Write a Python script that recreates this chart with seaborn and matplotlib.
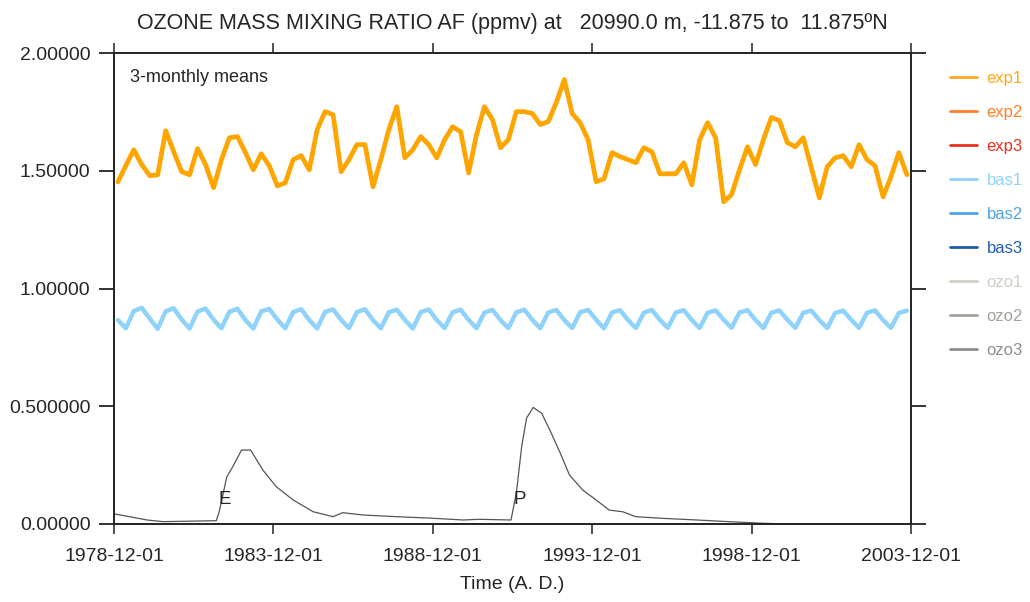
import numpy as np
import pandas as pd
import matplotlib
matplotlib.use("Agg")
import matplotlib.pyplot as plt
from matplotlib.lines import Line2D
import seaborn as sns

# ---------------- data ----------------
exp1_values = [
    1.453, 1.521, 1.589, 1.526, 1.479, 1.483, 1.670, 1.581, 1.496, 1.483,
    1.594, 1.526, 1.428, 1.547, 1.640, 1.645, 1.577, 1.504, 1.572, 1.521,
    1.436, 1.449, 1.547, 1.564, 1.504, 1.674, 1.751, 1.738, 1.496, 1.547,
    1.611, 1.611, 1.432, 1.547, 1.674, 1.772, 1.555, 1.589, 1.645, 1.611,
    1.555, 1.632, 1.687, 1.666, 1.491, 1.653, 1.772, 1.717, 1.598, 1.632,
    1.751, 1.751, 1.743, 1.696, 1.709, 1.789, 1.887, 1.743, 1.704, 1.632,
    1.453, 1.466, 1.577, 1.560, 1.547, 1.534, 1.598, 1.581, 1.487, 1.487,
    1.487, 1.534, 1.440, 1.632, 1.704, 1.640, 1.368, 1.398, 1.504, 1.602,
    1.526, 1.632, 1.726, 1.713, 1.619, 1.602, 1.640, 1.513, 1.385, 1.517,
    1.555, 1.564, 1.517, 1.611, 1.547, 1.521, 1.389, 1.474, 1.577, 1.483,
]

bas1_values = [
    0.866, 0.831, 0.904, 0.918, 0.872, 0.829, 0.903, 0.916, 0.868, 0.830,
    0.902, 0.915, 0.867, 0.831, 0.901, 0.914, 0.866, 0.830, 0.903, 0.913,
    0.868, 0.831, 0.900, 0.912, 0.866, 0.830, 0.901, 0.911, 0.867, 0.832,
    0.900, 0.912, 0.866, 0.831, 0.899, 0.910, 0.867, 0.830, 0.900, 0.911,
    0.866, 0.832, 0.899, 0.910, 0.867, 0.831, 0.898, 0.909, 0.866, 0.832,
    0.899, 0.910, 0.867, 0.831, 0.898, 0.909, 0.866, 0.832, 0.899, 0.909,
    0.867, 0.831, 0.898, 0.908, 0.866, 0.832, 0.897, 0.909, 0.867, 0.833,
    0.898, 0.908, 0.866, 0.832, 0.897, 0.907, 0.867, 0.833, 0.898, 0.908,
    0.866, 0.832, 0.897, 0.907, 0.867, 0.833, 0.897, 0.906, 0.866, 0.832,
    0.896, 0.906, 0.867, 0.833, 0.897, 0.907, 0.866, 0.833, 0.896, 0.906,
]

aer_dates = [
    "1978-12-01", "1979-04-15", "1979-12-15", "1980-06-15", "1982-02-15",
    "1982-03-20", "1982-06-15", "1982-08-15", "1982-12-01", "1983-03-15",
    "1983-08-01", "1984-01-01", "1984-07-15", "1985-03-01", "1985-10-15",
    "1986-02-01", "1986-10-01", "1987-10-15", "1988-11-01", "1989-11-15",
    "1990-05-15", "1991-05-15", "1991-07-15", "1991-09-15", "1991-11-10",
    "1992-01-25", "1992-05-01", "1992-08-01", "1992-12-01", "1993-03-15",
    "1993-08-15", "1994-01-15", "1994-06-15", "1994-11-15", "1995-04-15",
    "1996-02-15", "1997-03-15", "1998-03-15", "1999-04-15", "2000-02-15",
]
aer_values = [
    0.043, 0.034, 0.017, 0.010, 0.014,
    0.052, 0.200, 0.238, 0.314, 0.314,
    0.230, 0.159, 0.102, 0.052, 0.031,
    0.048, 0.038, 0.031, 0.025, 0.017,
    0.020, 0.017, 0.130, 0.330, 0.450,
    0.495, 0.470, 0.400, 0.300, 0.208,
    0.144, 0.102, 0.059, 0.052, 0.031,
    0.024, 0.017, 0.010, 0.003, 0.000,
]

legend_names = ["exp1", "exp2", "exp3", "bas1", "bas2", "bas3", "ozo1", "ozo2", "ozo3"]
legend_colors = ["#FFA91F", "#FF7F2A", "#E8321E", "#8FD3FA", "#4FA3E6", "#1F5DB0",
                 "#CFCFC8", "#A3A39D", "#8E8E8A"]

xtick_labels = ["1978-12-01", "1983-12-01", "1988-12-01", "1993-12-01", "1998-12-01", "2003-12-01"]
ytick_values = [0.0, 0.5, 1.0, 1.5, 2.0]
ytick_labels = ["0.00000", "0.500000", "1.00000", "1.50000", "2.00000"]

season_dates = pd.date_range("1979-01-01", periods=len(exp1_values), freq="3MS") + pd.Timedelta(days=14)
df_seas = pd.DataFrame({"date": season_dates, "exp1": exp1_values, "bas1": bas1_values})
df_aer = pd.DataFrame({"date": pd.to_datetime(aer_dates), "aer": aer_values})

# ---------------- plot ----------------
sns.set_style("ticks")
plt.rcParams["font.family"] = ["Liberation Sans", "DejaVu Sans"]

fig = plt.figure(figsize=(10.3, 6.02), dpi=100)
ax = fig.add_axes([114 / 1030, 1 - 524 / 602, (911 - 114) / 1030, (524 - 53) / 602])

sns.lineplot(data=df_aer, x="date", y="aer", ax=ax, color="#555555", lw=0.9)
sns.lineplot(data=df_seas, x="date", y="bas1", ax=ax, color=legend_colors[3], lw=3.2)
sns.lineplot(data=df_seas, x="date", y="exp1", ax=ax, color="#FFA500", lw=3.4)

ax.set_xlim(pd.Timestamp("1978-12-01"), pd.Timestamp("2003-12-01"))
ax.set_ylim(0, 2.0)
ax.set_xticks(pd.to_datetime(xtick_labels))
ax.set_xticklabels(xtick_labels)
ax.set_yticks(ytick_values)
ax.set_yticklabels(ytick_labels)

for s in ax.spines.values():
    s.set_visible(True)
    s.set_linewidth(1.4)
    s.set_color("#222222")
ax.tick_params(axis="y", which="major", direction="out", length=11, width=1.4,
               left=True, right=True, labelsize=14, pad=6, color="#333333")
ax.tick_params(axis="x", which="major", direction="out", length=7, width=1.2,
               bottom=True, top=True, labelsize=14, pad=10, color="#333333")
ax.minorticks_off()

ax.set_xlabel("Time (A. D.)", fontsize=14, labelpad=8)
ax.set_ylabel("")
ax.set_title("OZONE MASS MIXING RATIO AF (ppmv) at   20990.0 m, -11.875 to  11.875\u00baN",
             fontsize=15.5, pad=17)

ax.text(0.02, 0.965, "3-monthly means", transform=ax.transAxes, fontsize=13,
        ha="left", va="top")

ax.text(pd.Timestamp("1982-05-20"), 0.07, "E", fontsize=13.5, ha="center", va="bottom")
ax.text(pd.Timestamp("1991-08-25"), 0.07, "P", fontsize=13.5, ha="center", va="bottom")

handles = [Line2D([0], [0], color=c, lw=2) for c in legend_colors]
leg = fig.legend(handles, legend_names, loc="upper left",
                 bbox_to_anchor=(935 / 1030, 1 - 56 / 602), frameon=False,
                 fontsize=12, handlelength=1.6, handletextpad=0.6, labelspacing=1.14)
for t, c in zip(leg.get_texts(), legend_colors):
    t.set_color(c)

fig.savefig("out.png", dpi=100)
